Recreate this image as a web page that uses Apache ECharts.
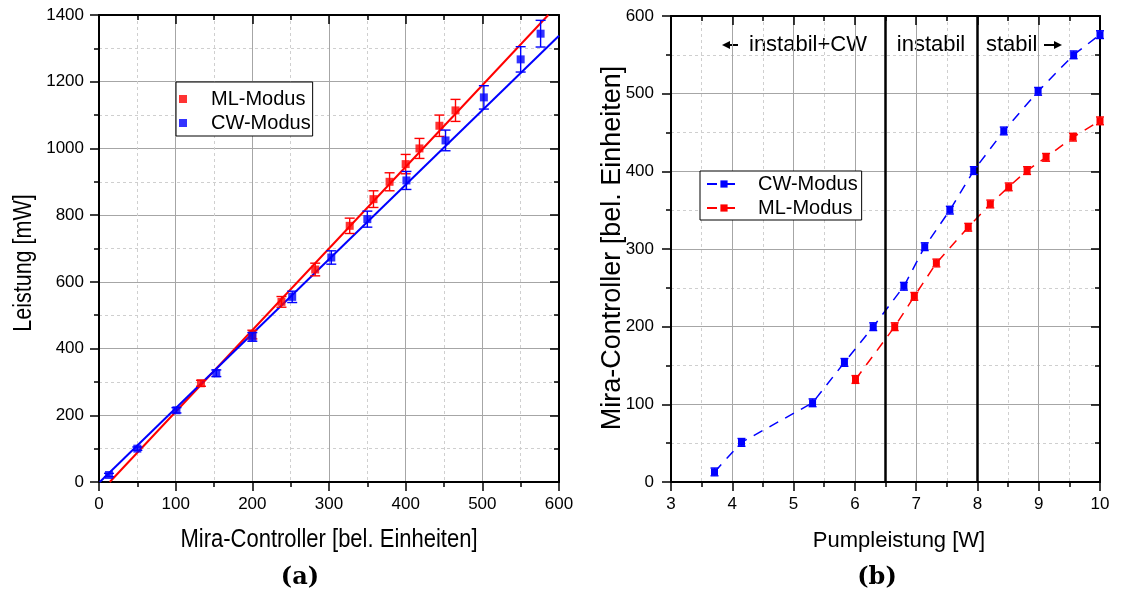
<!DOCTYPE html>
<html>
<head>
<meta charset="utf-8">
<script src="https://cdn.jsdelivr.net/npm/echarts@6/dist/echarts.min.js"></script>
<style>
html,body{margin:0;padding:0;background:#fff;}
#chart{width:1123px;height:595px;}
</style>
</head>
<body>
<div id="chart"></div>
<script>
// ---------- Panel (a): Leistung vs Mira-Controller ----------
const mlX_a   = [133, 200, 238, 282, 327, 358, 379, 400, 418, 444, 465];
const mlY_a   = [296, 442, 540, 637, 768, 848, 900, 953, 1000, 1068, 1114];
const mlErr_a = [9, 13, 16, 19, 23, 25, 27, 29, 30, 32, 33];

const cwX_a   = [13, 50, 101, 153, 200, 252, 303, 350, 401, 452, 502, 550, 576];
const cwY_a   = [21, 100, 215, 326, 435, 555, 673, 788, 904, 1024, 1153, 1267, 1344];
const cwErr_a = [5, 5, 8, 10, 13, 17, 20, 24, 27, 31, 35, 38, 40];

// linear fit end points
const mlFitX = [14, 586];
const mlFitY = [0, 1400];
const cwFitX = [1, 600];
const cwFitY = [0, 1338];

// ---------- Panel (b): Mira-Controller vs Pumpleistung ----------
const cwX_b   = [3.71, 4.15, 5.31, 5.83, 6.30, 6.80, 7.14, 7.55, 7.94, 8.43, 8.99, 9.57, 10.0];
const cwY_b   = [13, 51, 102, 154, 200, 252, 303, 350, 401, 452, 503, 550, 576];
const cwErr_b = [5, 5, 5, 5, 5, 5, 5, 5, 5, 5, 5, 5, 5];

const mlX_b   = [6.01, 6.65, 6.97, 7.33, 7.85, 8.21, 8.51, 8.81, 9.12, 9.56, 10.0];
const mlY_b   = [132, 200, 239, 282, 328, 358, 380, 401, 418, 444, 465];
const mlErr_b = [5, 5, 5, 5, 5, 5, 5, 5, 5, 5, 5];

const boundaries_b = [6.5, 8];

const seriesNames = ['ML-Modus', 'CW-Modus'];
const regionLabels = ['instabil+CW', 'instabil', 'stabil'];
const panelLabels = ['(a)', '(b)'];
const axisTitles = ['Mira-Controller [bel. Einheiten]', 'Leistung [mW]', 'Pumpleistung [W]', 'Mira-Controller [bel. Einheiten]'];

// ---------- helpers ----------
const FONT = '"Liberation Sans", Arial, Helvetica, sans-serif';
const RED = '#ff0000', BLUE = '#0000ff';
const zip = (xs, ys) => xs.map((x, i) => [x, ys[i]]);
const zip3 = (xs, ys, es) => xs.map((x, i) => [x, ys[i], es[i]]);
const plain = v => String(v);

function errRender(capHalf) {
  return function (params, api) {
    const x = api.value(0), y = api.value(1), e = api.value(2);
    const t = api.coord([x, y + e]);
    const b = api.coord([x, y - e]);
    const style = { stroke: api.visual('color'), lineWidth: 1.4 };
    return {
      type: 'group',
      children: [
        { type: 'line', shape: { x1: t[0], y1: t[1], x2: b[0], y2: b[1] }, style: style },
        { type: 'line', shape: { x1: t[0] - capHalf, y1: t[1], x2: t[0] + capHalf, y2: t[1] }, style: style },
        { type: 'line', shape: { x1: b[0] - capHalf, y1: b[1], x2: b[0] + capHalf, y2: b[1] }, style: style }
      ]
    };
  };
}

function mainX(gi, min, max, interval) {
  return {
    gridIndex: gi, type: 'value', min: min, max: max, interval: interval, position: 'bottom',
    axisLine: { show: true, onZero: false, lineStyle: { color: '#000', width: 2 } },
    axisTick: { show: true, inside: false, length: 9, lineStyle: { color: '#000', width: 1.5 } },
    minorTick: { show: true, splitNumber: 2, length: 5, lineStyle: { color: '#000', width: 1.5 } },
    axisLabel: { show: true, fontSize: 17, color: '#000', margin: 14, fontFamily: FONT, formatter: plain },
    splitLine: { show: true, lineStyle: { color: '#a6a6a6', width: 1 } },
    minorSplitLine: { show: true, lineStyle: { color: '#cfcfcf', width: 1, type: [3, 3] } }
  };
}
function mirrorX(gi, min, max, interval) {
  return {
    gridIndex: gi, type: 'value', min: min, max: max, interval: interval, position: 'top',
    axisLine: { show: true, onZero: false, lineStyle: { color: '#000', width: 2 } },
    axisTick: { show: true, inside: true, length: 9, lineStyle: { color: '#000', width: 1.5 } },
    minorTick: { show: true, splitNumber: 2, length: 5, lineStyle: { color: '#000', width: 1.5 } },
    axisLabel: { show: false },
    splitLine: { show: false }
  };
}
function mainY(gi, min, max, interval, margin) {
  return {
    gridIndex: gi, type: 'value', min: min, max: max, interval: interval, position: 'left',
    axisLine: { show: true, onZero: false, lineStyle: { color: '#000', width: 2 } },
    axisTick: { show: true, inside: false, length: 9, lineStyle: { color: '#000', width: 1.5 } },
    minorTick: { show: true, splitNumber: 2, length: 5, lineStyle: { color: '#000', width: 1.5 } },
    axisLabel: { show: true, fontSize: 17, color: '#000', margin: margin, fontFamily: FONT, formatter: plain },
    splitLine: { show: true, lineStyle: { color: '#a6a6a6', width: 1 } },
    minorSplitLine: { show: true, lineStyle: { color: '#cfcfcf', width: 1, type: [3, 3] } }
  };
}
function mirrorY(gi, min, max, interval) {
  return {
    gridIndex: gi, type: 'value', min: min, max: max, interval: interval, position: 'right',
    axisLine: { show: true, onZero: false, lineStyle: { color: '#000', width: 2 } },
    axisTick: { show: true, inside: true, length: 9, lineStyle: { color: '#000', width: 1.5 } },
    minorTick: { show: true, splitNumber: 2, length: 5, lineStyle: { color: '#000', width: 1.5 } },
    axisLabel: { show: false },
    splitLine: { show: false }
  };
}

const nameFmt = n => n.replace(/ \([ab]\)$/, '');
const sq = 'path://M0,0H10V10H0Z';

const option = {
  animation: false,
  backgroundColor: '#fff',
  textStyle: { fontFamily: FONT },
  grid: [
    { left: 99, top: 15, width: 460, height: 467 },
    { left: 671, top: 16, width: 429, height: 466 }
  ],
  xAxis: [
    mainX(0, 0, 600, 100), mirrorX(0, 0, 600, 100),
    mainX(1, 3, 10, 1), mirrorX(1, 3, 10, 1)
  ],
  yAxis: [
    mainY(0, 0, 1400, 200, 15), mirrorY(0, 0, 1400, 200),
    mainY(1, 0, 600, 100, 17), mirrorY(1, 0, 600, 100)
  ],
  legend: [
    {
      data: [{ name: seriesNames[0] + ' (a)', icon: sq }, { name: seriesNames[1] + ' (a)', icon: sq }],
      formatter: nameFmt, orient: 'vertical', left: 176, top: 82,
      padding: [7, 2, 3, 3], itemWidth: 46, itemHeight: 8, itemGap: 4,
      borderColor: '#000', borderWidth: 1, borderRadius: 0, backgroundColor: '#fff',
      textStyle: { fontSize: 20, color: '#000', fontFamily: FONT, lineHeight: 20 },
      selectedMode: false
    },
    {
      data: [seriesNames[1] + ' (b)', seriesNames[0] + ' (b)'],
      formatter: nameFmt, orient: 'vertical', left: 700, top: 171,
      padding: [3, 4, 2, 6], itemWidth: 34, itemHeight: 9, itemGap: 4,
      borderColor: '#000', borderWidth: 1, borderRadius: 0, backgroundColor: '#fff',
      textStyle: { fontSize: 20, color: '#000', fontFamily: FONT, lineHeight: 20, padding: [0, 0, 0, 12] },
      selectedMode: false
    }
  ],
  series: [
    // ---- panel (a) ----
    { name: 'ML fit', type: 'line', xAxisIndex: 0, yAxisIndex: 0, data: zip(mlFitX, mlFitY),
      symbol: 'none', lineStyle: { color: RED, width: 2 }, itemStyle: { color: RED }, silent: true, z: 2 },
    { name: 'CW fit', type: 'line', xAxisIndex: 0, yAxisIndex: 0, data: zip(cwFitX, cwFitY),
      symbol: 'none', lineStyle: { color: BLUE, width: 2 }, itemStyle: { color: BLUE }, silent: true, z: 2 },
    { name: 'ML err a', type: 'custom', xAxisIndex: 0, yAxisIndex: 0, renderItem: errRender(5),
      data: zip3(mlX_a, mlY_a, mlErr_a), itemStyle: { color: RED }, silent: true, z: 3 },
    { name: seriesNames[0] + ' (a)', type: 'scatter', xAxisIndex: 0, yAxisIndex: 0, data: zip(mlX_a, mlY_a),
      symbol: 'rect', symbolSize: 8, itemStyle: { color: RED }, silent: true, z: 4 },
    { name: 'CW err a', type: 'custom', xAxisIndex: 0, yAxisIndex: 0, renderItem: errRender(5),
      data: zip3(cwX_a, cwY_a, cwErr_a), itemStyle: { color: BLUE }, silent: true, z: 5 },
    { name: seriesNames[1] + ' (a)', type: 'scatter', xAxisIndex: 0, yAxisIndex: 0, data: zip(cwX_a, cwY_a),
      symbol: 'rect', symbolSize: 8, itemStyle: { color: BLUE }, silent: true, z: 6 },

    // ---- panel (b) ----
    { name: seriesNames[1] + ' (b)', type: 'line', xAxisIndex: 2, yAxisIndex: 2, data: zip(cwX_b, cwY_b),
      symbol: 'rect', symbolSize: 7, showSymbol: true,
      lineStyle: { color: BLUE, width: 1.5, type: [10, 8] }, itemStyle: { color: BLUE }, silent: true, z: 4,
      markLine: {
        silent: true, symbol: ['none', 'none'], label: { show: false },
        lineStyle: { color: '#000', width: 2.5, type: 'solid' },
        data: boundaries_b.map(v => ({ xAxis: v }))
      } },
    { name: 'CW err b', type: 'custom', xAxisIndex: 2, yAxisIndex: 2, renderItem: errRender(4),
      data: zip3(cwX_b, cwY_b, cwErr_b), itemStyle: { color: BLUE }, silent: true, z: 5 },
    { name: seriesNames[0] + ' (b)', type: 'line', xAxisIndex: 2, yAxisIndex: 2, data: zip(mlX_b, mlY_b),
      symbol: 'rect', symbolSize: 7, showSymbol: true,
      lineStyle: { color: RED, width: 1.5, type: [10, 8] }, itemStyle: { color: RED }, silent: true, z: 4 },
    { name: 'ML err b', type: 'custom', xAxisIndex: 2, yAxisIndex: 2, renderItem: errRender(4),
      data: zip3(mlX_b, mlY_b, mlErr_b), itemStyle: { color: RED }, silent: true, z: 5 }
  ],
  graphic: [
    // axis titles
    { type: 'text', x: 329, y: 540, scaleX: 0.88, silent: true,
      style: { text: axisTitles[0], fontSize: 25, fontFamily: FONT, fill: '#000', align: 'center', verticalAlign: 'middle' } },
    { type: 'text', x: 24, y: 263, rotation: Math.PI / 2, scaleX: 0.86, silent: true,
      style: { text: axisTitles[1], fontSize: 25, fontFamily: FONT, fill: '#000', align: 'center', verticalAlign: 'middle' } },
    { type: 'text', x: 899, y: 541, silent: true,
      style: { text: axisTitles[2], fontSize: 22, fontFamily: FONT, fill: '#000', align: 'center', verticalAlign: 'middle' } },
    { type: 'text', x: 613, y: 248, rotation: Math.PI / 2, silent: true,
      style: { text: axisTitles[3], fontSize: 27, fontFamily: FONT, fill: '#000', align: 'center', verticalAlign: 'middle' } },
    // panel labels
    { type: 'text', x: 300, y: 578, silent: true,
      style: { text: panelLabels[0], fontSize: 24, fontWeight: 'bold', fontFamily: '"DejaVu Serif", serif', fill: '#000', align: 'center', verticalAlign: 'middle' } },
    { type: 'text', x: 877, y: 578, silent: true,
      style: { text: panelLabels[1], fontSize: 24, fontWeight: 'bold', fontFamily: '"DejaVu Serif", serif', fill: '#000', align: 'center', verticalAlign: 'middle' } },
    // region annotations
    { type: 'text', x: 749, y: 45, silent: true,
      style: { text: regionLabels[0], fontSize: 22, fontFamily: FONT, fill: '#000', align: 'left', verticalAlign: 'middle' } },
    { type: 'text', x: 931, y: 45, silent: true,
      style: { text: regionLabels[1], fontSize: 22, fontFamily: FONT, fill: '#000', align: 'center', verticalAlign: 'middle' } },
    { type: 'text', x: 986, y: 45, silent: true,
      style: { text: regionLabels[2], fontSize: 22, fontFamily: FONT, fill: '#000', align: 'left', verticalAlign: 'middle' } },
    // arrows
    { type: 'line', silent: true, shape: { x1: 728, y1: 45, x2: 738, y2: 45 }, style: { stroke: '#000', lineWidth: 2 } },
    { type: 'polygon', silent: true, shape: { points: [[722, 45], [730, 41], [730, 49]] }, style: { fill: '#000' } },
    { type: 'line', silent: true, shape: { x1: 1044, y1: 45, x2: 1055, y2: 45 }, style: { stroke: '#000', lineWidth: 2 } },
    { type: 'polygon', silent: true, shape: { points: [[1062, 45], [1054, 41], [1054, 49]] }, style: { fill: '#000' } }
  ]
};

const chart = echarts.init(document.getElementById('chart'), null, { renderer: 'canvas' });
chart.setOption(option);
</script>
</body>
</html>
